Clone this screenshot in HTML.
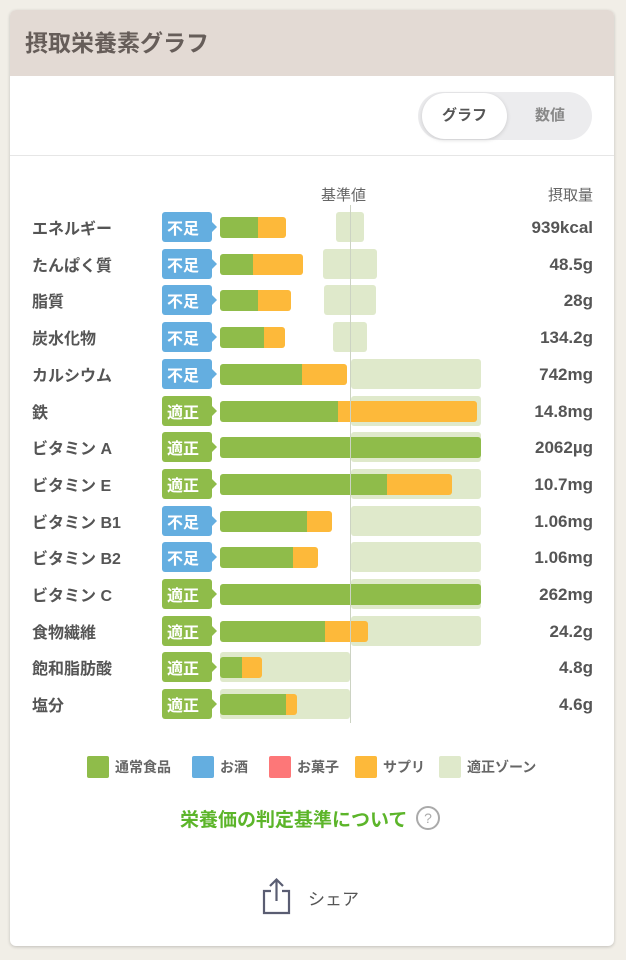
<!DOCTYPE html>
<html><head><meta charset="utf-8"><style>
*{margin:0;padding:0;box-sizing:border-box}
body{width:626px;height:960px;background:#f1eee7;font-family:"Liberation Sans","Noto Sans CJK JP",sans-serif;position:relative;overflow:hidden;color:#555}
.card{position:absolute;left:10px;top:10px;width:604px;height:936px;background:#fff;border-radius:6px;box-shadow:0 1px 3px rgba(0,0,0,.2);overflow:hidden}
.hdr{position:absolute;left:0;top:0;width:604px;height:66px;background:#e3dad4;font-size:23px;font-weight:bold;color:#665d59;padding:14px 0 0 15px}
.a{position:absolute}
.lbl{position:absolute;left:32px;font-size:16px;font-weight:bold;color:#555;line-height:20px}
.badge{position:absolute;left:162px;width:50px;height:30px;border-radius:3px;color:#fff;font-size:16px;font-weight:bold;line-height:30px;padding:3px 0 0 5px}
.badge:after{content:"";position:absolute;right:-5px;top:10px;border-left:5px solid;border-top:5px solid transparent;border-bottom:5px solid transparent;border-left-color:inherit}
.b{background:#64aee0;border-color:#64aee0}
.g{background:#8fbc4a;border-color:#8fbc4a}
.zone{position:absolute;height:30px;background:#dfe9cb;border-radius:3px}
.bar{position:absolute;height:21px;border-radius:3px;overflow:hidden;display:flex}
.bar i{display:block;height:100%}
.val{position:absolute;right:33px;font-size:17px;font-weight:bold;color:#555;line-height:20px}
.leg{position:absolute;top:756px;font-size:14px;font-weight:bold;color:#666;line-height:22px}
.leg span{display:inline-block;width:22px;height:22px;border-radius:2px;vertical-align:top;margin-right:6px}
</style></head><body>
<div class="card">
<div class="hdr">摂取栄養素グラフ</div>
<div class="a" style="left:408px;top:82px;width:174px;height:48px;border-radius:24px;background:#ececee"></div>
<div class="a" style="left:412px;top:83px;width:85px;height:46px;border-radius:23px;background:#fff;box-shadow:0 1px 4px rgba(0,0,0,.15);text-align:center;line-height:46px;font-size:15px;font-weight:bold;color:#555">グラフ</div>
<div class="a" style="left:500px;top:82px;width:80px;line-height:48px;text-align:center;font-size:15px;font-weight:bold;color:#888">数値</div>
<div class="a" style="left:0;top:145px;width:604px;height:1px;background:#e6e6e6"></div>
<div class="a" style="left:311px;top:174px;font-size:15px;color:#666">基準値</div>
<div class="a" style="right:21px;top:174px;font-size:15px;color:#666">摂取量</div>
</div>
<div id="rows"></div>
<div class="a" style="left:350px;top:205px;width:1px;height:518px;background:#ccd3c3"></div>
<div class="leg" style="left:87px"><span style="background:#8fbc4a"></span>通常食品</div>
<div class="leg" style="left:192px"><span style="background:#64aee0"></span>お酒</div>
<div class="leg" style="left:269px"><span style="background:#fd7778"></span>お菓子</div>
<div class="leg" style="left:355px"><span style="background:#fdb93a"></span>サプリ</div>
<div class="leg" style="left:439px"><span style="background:#dfe9cb"></span>適正ゾーン</div>
<div class="a" style="left:180px;top:805px;font-size:19px;font-weight:bold;color:#5cb52a">栄養価の判定基準について</div>
<div class="a" style="left:416px;top:806px;width:24px;height:24px;border:2px solid #aaa;border-radius:50%;text-align:center;font-size:14px;line-height:20px;color:#aaa">?</div>
<svg class="a" style="left:260px;top:876px" width="34" height="40" viewBox="0 0 34 40"><path d="M11 15H4v22h25V15h-7M16.5 4v21M10 10l6.5-6.5L23 10" fill="none" stroke="#5a5d72" stroke-width="2.2"/></svg>
<div class="a" style="left:308px;top:885px;font-size:17px;color:#555">シェア</div>
<script>
var R=[["エネルギー","b",38,28,336,364,"939kcal"],["たんぱく質","b",33,50,323,377,"48.5g"],["脂質","b",38,33,324,376,"28g"],["炭水化物","b",44,21,333,367,"134.2g"],["カルシウム","b",82,45,351,481,"742mg"],["鉄","g",118,139,351,481,"14.8mg"],["ビタミン A","g",261,0,351,481,"2062µg"],["ビタミン E","g",167,65,351,481,"10.7mg"],["ビタミン B1","b",87,25,351,481,"1.06mg"],["ビタミン B2","b",73,25,351,481,"1.06mg"],["ビタミン C","g",261,0,351,481,"262mg"],["食物繊維","g",105,43,351,481,"24.2g"],["飽和脂肪酸","g",22,20,220,350,"4.8g"],["塩分","g",66,11,220,350,"4.6g"]];
var h="";R.forEach(function(r,i){var c=227+i*36.7;
h+='<div class="zone" style="left:'+r[4]+'px;top:'+(c-15)+'px;width:'+(r[5]-r[4])+'px"></div>';
h+='<div class="lbl" style="top:'+(c-7)+'px">'+r[0]+'</div>';
h+='<div class="badge '+r[1]+'" style="top:'+(c-15)+'px">'+(r[1]=="b"?"不足":"適正")+'</div>';
h+='<div class="bar" style="left:220px;top:'+(c-10)+'px;width:'+(r[2]+r[3])+'px"><i style="width:'+r[2]+'px;background:#8fbc4a"></i><i style="width:'+r[3]+'px;background:#fdb93a"></i></div>';
h+='<div class="val" style="top:'+(c-9)+'px">'+r[6]+'</div>';});
document.getElementById("rows").innerHTML=h;
</script>
</body></html>
